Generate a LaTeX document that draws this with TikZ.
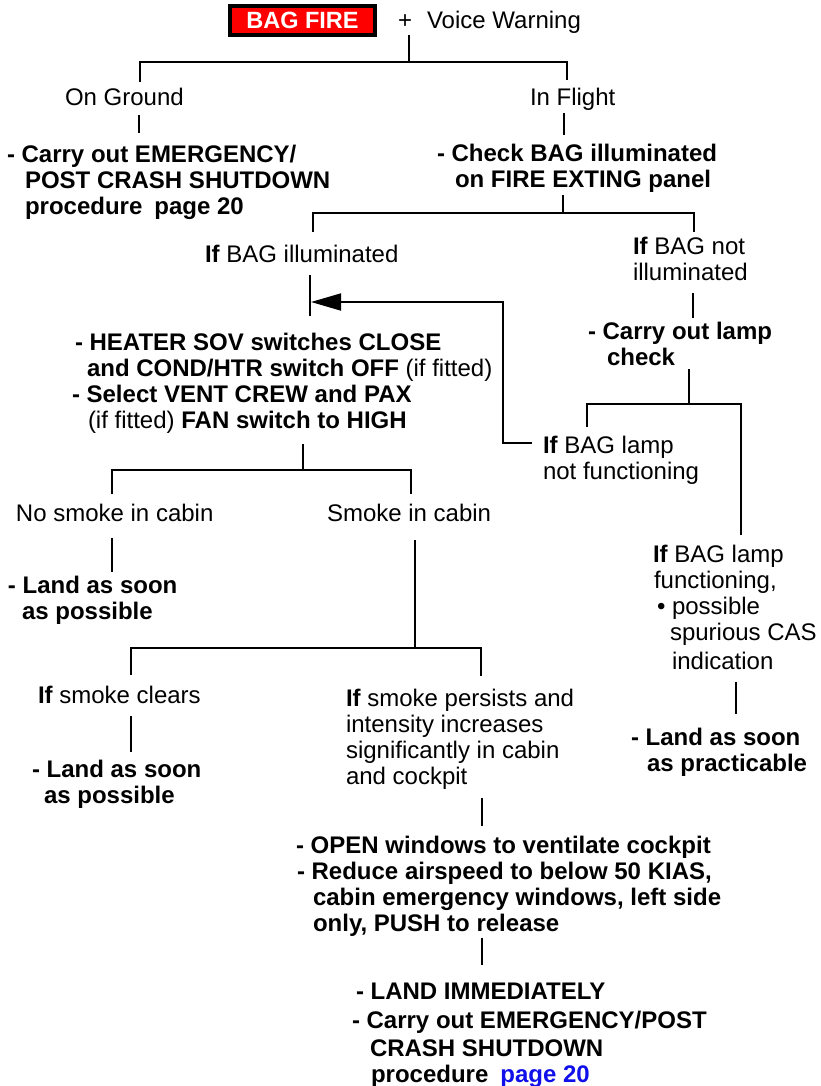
\documentclass[tikz,border=0pt]{standalone}
\usepackage{fontspec}
\setmainfont{Liberation Sans}
\usetikzlibrary{arrows.meta}
\definecolor{warnred}{RGB}{255,0,0}
\definecolor{linkblue}{RGB}{16,16,235}
\begin{document}
\begin{tikzpicture}[x=1pt,y=-1pt,
  txt/.style={inner sep=0pt, outer sep=0pt, anchor=north west, align=left,
              font=\fontsize{24}{26}\selectfont},
  wire/.style={line width=1.8pt},
  warnbox/.style={fill=warnred, draw=black, line width=4pt, inner sep=0pt,
                  minimum width=145pt, minimum height=29pt, text=white,
                  font=\fontsize{23.5}{26}\selectfont\bfseries},
  backarrow/.style={wire, -{Triangle[length=30pt,width=17pt]}}]
\useasboundingbox (0,0) rectangle (820,1086);

% ---- header -------------------------------------------------------
\node[warnbox] (bagfire) at (302.5,20.5) {BAG FIRE};
\node[txt] (warn) at (398,11) {+\hspace{15pt}Voice Warning};

\node[txt] (ground) at (65,88) {On Ground};
\node[txt] (flight) at (530,88) {In Flight};

\node[txt] (shut1) at (7,145) {\textbf{- Carry out EMERGENCY/}\\
  \hspace*{18pt}\textbf{POST CRASH SHUTDOWN}\\
  \hspace*{18pt}\textbf{procedure\hspace{12pt}page 20}};
\node[txt] (check) at (437,144) {\textbf{- Check BAG illuminated}\\
  \hspace*{18pt}\textbf{on FIRE EXTING panel}};

% ---- in flight branches -------------------------------------------
\node[txt] (lit) at (205,245) {\textbf{If} BAG illuminated};
\node[txt] (unlit) at (633,237) {\textbf{If} BAG not\\illuminated};
\node[txt] (lampchk) at (588,322) {\textbf{- Carry out lamp}\\
  \hspace*{19pt}\textbf{check}};
\node[txt] (lampbad) at (543,436) {\textbf{If} BAG lamp\\not functioning};

\node[txt] (heater) at (72,333) {\hspace*{3pt}\textbf{- HEATER SOV switches CLOSE}\\
  \hspace*{15pt}\textbf{and COND/HTR switch OFF} (if fitted)\\
  \textbf{- Select VENT CREW and PAX}\\
  \hspace*{16pt}(if fitted) \textbf{FAN switch to HIGH}};

\node[txt] (lampok) at (653,545) {\textbf{If} BAG lamp\\
  \hspace*{1pt}functioning,\\
  \hspace*{4pt}• possible\\
  \hspace*{17pt}spurious CAS\\[3pt]
  \hspace*{19pt}indication};
\node[txt] (land3) at (631,728) {\textbf{- Land as soon}\\
  \hspace*{16pt}\textbf{as practicable}};

% ---- smoke branches -----------------------------------------------
\node[txt] (nosmoke) at (16,504) {No smoke in cabin};
\node[txt] (smoke) at (327,504) {Smoke in cabin};
\node[txt] (land1) at (8,576) {\textbf{- Land as soon}\\
  \hspace*{14pt}\textbf{as possible}};

\node[txt] (clears) at (38,686) {\textbf{If} smoke clears};
\node[txt] (land2) at (32,760) {\textbf{- Land as soon}\\
  \hspace*{12pt}\textbf{as possible}};
\node[txt] (persist) at (346,689) {\textbf{If} smoke persists and\\
  intensity increases\\
  significantly in cabin\\
  and cockpit};

\node[txt] (vent) at (296,836) {\textbf{- OPEN windows to ventilate cockpit}\\
  \hspace*{1pt}\textbf{- Reduce airspeed to below 50 KIAS,}\\
  \hspace*{17pt}\textbf{cabin emergency windows, left side}\\
  \hspace*{17pt}\textbf{only, PUSH to release}};

\node[txt] (landnow) at (352,983) {\hspace*{4pt}\textbf{- LAND IMMEDIATELY}\\[3pt]
  \textbf{- Carry out EMERGENCY/POST}\\[2pt]
  \hspace*{18pt}\textbf{CRASH SHUTDOWN}\\
  \hspace*{19pt}\textbf{procedure\hspace{12pt}\textcolor{linkblue}{page 20}}};

% ---- connector points ---------------------------------------------
\coordinate (w0) at (409,35);   \coordinate (w1) at (409,62);
\coordinate (g0) at (140,82);   \coordinate (f0) at (567,80);
\coordinate (g1) at (139,115);  \coordinate (g2) at (139,133);
\coordinate (f1) at (564,113);  \coordinate (f2) at (564,135);
\coordinate (c0) at (563,195);  \coordinate (c1) at (563,213);
\coordinate (l0) at (313,232);  \coordinate (u0) at (694,232);
\coordinate (l1) at (310,275);  \coordinate (l2) at (310,316);
\coordinate (u1) at (693,293);  \coordinate (u2) at (693,318);
\coordinate (k0) at (689,369);  \coordinate (k1) at (689,404);
\coordinate (b0) at (587,427);  \coordinate (ok0) at (741,535);
\coordinate (r0) at (532,443);  \coordinate (r1) at (503,443);
\coordinate (r2) at (503,302);  \coordinate (r3) at (311,302);
\coordinate (h0) at (303,444);  \coordinate (h1) at (303,470);
\coordinate (n0) at (112,494);  \coordinate (s0) at (411,494);
\coordinate (n1) at (112,538);  \coordinate (n2) at (112,572);
\coordinate (s1) at (415,540);  \coordinate (s2) at (415,648);
\coordinate (e0) at (131,675);  \coordinate (p0) at (481,676);
\coordinate (e1) at (131,716);  \coordinate (e2) at (131,752);
\coordinate (p1) at (482,798);  \coordinate (p2) at (482,826);
\coordinate (v1) at (482,938);  \coordinate (v2) at (482,965);
\coordinate (o1) at (736,682);  \coordinate (o2) at (736,714);

% ---- connectors ---------------------------------------------------
\draw[wire] (w0) -- (w1);
\draw[wire] (g0) |- (w1) -| (f0);
\draw[wire] (g1) -- (g2);
\draw[wire] (f1) -- (f2);
\draw[wire] (c0) -- (c1);
\draw[wire] (l0) |- (c1) -| (u0);
\draw[wire] (l1) -- (l2);
\draw[wire] (u1) -- (u2);
\draw[wire] (k0) -- (k1);
\draw[wire] (b0) |- (k1) -| (ok0);
\draw[backarrow] (r0) -- (r1) -- (r2) -- (r3);
\draw[wire] (h0) -- (h1);
\draw[wire] (n0) |- (h1) -| (s0);
\draw[wire] (n1) -- (n2);
\draw[wire] (s1) -- (s2);
\draw[wire] (e0) |- (s2) -| (p0);
\draw[wire] (e1) -- (e2);
\draw[wire] (p1) -- (p2);
\draw[wire] (v1) -- (v2);
\draw[wire] (o1) -- (o2);
\end{tikzpicture}
\end{document}
